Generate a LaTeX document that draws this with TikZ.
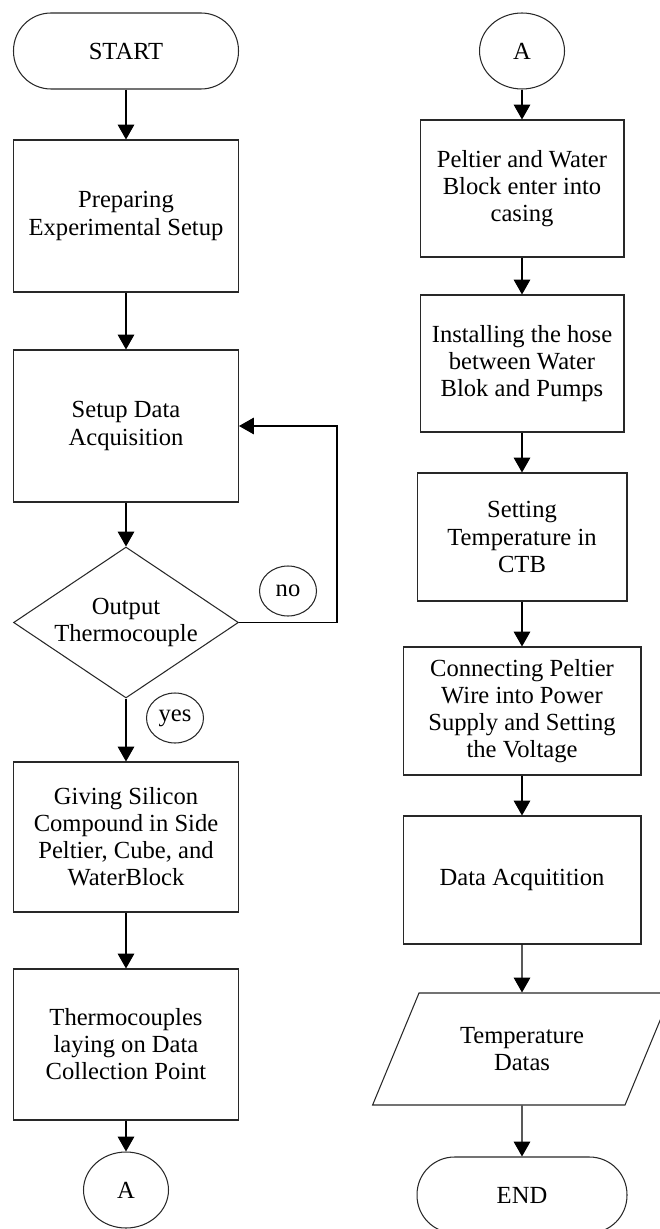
\documentclass[tikz,border=0pt]{standalone}
\usepackage{fontspec}
\setmainfont{Liberation Serif}
\usetikzlibrary{positioning, shapes.geometric, arrows.meta}
\definecolor{flowLine}{RGB}{40,40,40}

\begin{document}
\begin{tikzpicture}[
    x=0.02cm, y=-0.02cm,
    >={Triangle[length=8.5pt, width=9.5pt]}, font=\fontsize{14}{15.4}\selectfont,
    line width=0.6pt,
    process/.style={rectangle, draw=flowLine, align=center, inner sep=1mm},
    terminal/.style={rectangle, rounded corners=0.75cm, draw=flowLine, minimum height=1.52cm, align=center},
    connector/.style={ellipse, draw=flowLine, minimum width=1.7cm, minimum height=1.52cm, inner sep=0pt},
    decision/.style={diamond, draw=flowLine, align=center, shape aspect=1.5, inner sep=0pt, minimum width=4.5cm, minimum height=3.02cm},
    answer/.style={ellipse, draw=flowLine, minimum width=1.14cm, minimum height=1cm, inner sep=0pt},
    datastore/.style={trapezium, trapezium left angle=61, trapezium right angle=119, trapezium stretches=true, draw=flowLine, align=center, minimum width=5.98cm, minimum height=2.24cm}
]
    \useasboundingbox (0,0) rectangle (659,1229);

    % left column
    \node[terminal, minimum width=4.5cm] (start) at (126, 51) {START};
    \node[process, minimum width=4.5cm, minimum height=3.04cm] (prep_setup) at (126, 216) {Preparing \\ Experimental Setup};
    \draw[->] (start) -- (prep_setup);
    \node[process, minimum width=4.5cm, minimum height=3.04cm] (setup_daq) at (126, 426) {Setup Data \\ Acquisition};
    \draw[->] (prep_setup) -- (setup_daq);
    \node[decision] (out_tc) at (126, 622.5) {Output \\ Thermocouple};
    \draw[->] (setup_daq) -- (out_tc);
    \node[answer] (ans_no) at (288, 591) {no};
    \draw[->] (out_tc.east) -- ++(98, 0) |- (setup_daq.east);
    \node[answer] (ans_yes) at (175, 718) {yes};
    \node[process, minimum width=4.5cm, minimum height=3.0cm] (silicon) at (126, 837) {Giving Silicon \\ Compound in Side \\ Peltier, Cube, and \\ WaterBlock};
    \draw[->] (out_tc.south) -- (silicon.north);
    \node[process, minimum width=4.5cm, minimum height=3.02cm] (tc_lay) at (126, 1044.5) {Thermocouples \\ laying on Data \\ Collection Point};
    \draw[->] (silicon) -- (tc_lay);
    \node[connector] (conn_a1) at (126, 1190) {A};
    \draw[->] (tc_lay) -- (conn_a1);

    % right column
    \node[connector] (conn_a2) at (522, 51) {A};
    \node[process, minimum width=4.08cm, minimum height=2.74cm] (peltier) at (522, 188.5) {Peltier and Water \\ Block enter into \\ casing};
    \draw[->] (conn_a2) -- (peltier);
    \node[process, minimum width=4.08cm, minimum height=2.74cm] (hose) at (522, 363.5) {Installing the hose \\ between Water \\ Blok and Pumps};
    \draw[->] (peltier) -- (hose);
    \node[process, minimum width=4.2cm, minimum height=2.56cm] (set_ctb) at (522, 537) {Setting \\ Temperature in \\ CTB};
    \draw[->] (hose) -- (set_ctb);
    \node[process, minimum width=4.76cm, minimum height=2.56cm] (power) at (522, 711) {Connecting Peltier \\ Wire into Power \\ Supply and Setting \\ the Voltage};
    \draw[->] (set_ctb) -- (power);
    \node[process, minimum width=4.76cm, minimum height=2.56cm] (data_acq) at (522, 880) {Data Acquitition};
    \draw[->] (power) -- (data_acq);
    \node[datastore] (temp_data) at (522, 1049) {Temperature \\ Datas};
    \draw[->] (data_acq) -- (temp_data);
    \node[terminal, minimum width=4.2cm] (finish) at (522, 1195) {END};
    \draw[->] (temp_data) -- (finish);
\end{tikzpicture}
\end{document}
